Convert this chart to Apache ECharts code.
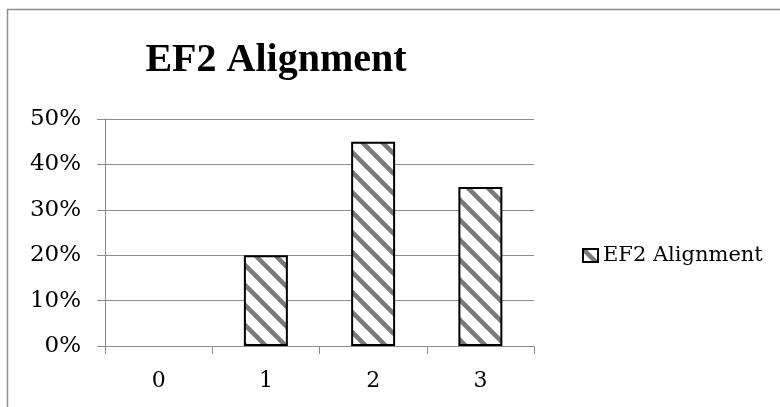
<!DOCTYPE html>
<html>
<head>
<meta charset="utf-8">
<script src="https://cdn.jsdelivr.net/npm/echarts@6/dist/echarts.min.js"></script>
<style>
  html, body { margin: 0; padding: 0; background: #fff; }
  #container { width: 780px; height: 407px; }
</style>
</head>
<body>
<div id="container"></div>
<script>
var categories = ['0', '1', '2', '3'];
var values = [0, 20, 45, 35];
var yTicks = [0, 10, 20, 30, 40, 50];
var seriesName = 'EF2 Alignment';

// diagonal hatch tile
var makeHatch = function () {
    var c = document.createElement('canvas');
    c.width = 20;
    c.height = 20;
    var ctx = c.getContext('2d');
    ctx.fillStyle = '#fff';
    ctx.fillRect(0, 0, 20, 20);
    ctx.strokeStyle = '#7a7a7a';
    ctx.lineWidth = 4.5;
    ctx.filter = 'blur(0.6px)';
    [-20, 0, 20].forEach(function (o) {
        ctx.beginPath();
        ctx.moveTo(o - 5, -5);
        ctx.lineTo(o + 25, 25);
        ctx.stroke();
    });
    return c;
};

var serif = 'DejaVu Serif';

var barData = values.map(function (v) {
    // a zero bar shows no outline in the original
    return v === 0 ? { value: v, itemStyle: { borderWidth: 0 } } : v;
});

var option = {
    animation: false,
    title: {
        text: seriesName,
        left: 271,
        textAlign: 'center',
        top: 36,
        textStyle: {
            fontFamily: 'Liberation Serif',
            fontWeight: 'bold',
            fontSize: 40,
            color: '#000'
        }
    },
    legend: {
        data: [seriesName],
        orient: 'vertical',
        left: 577,
        top: 240,
        icon: 'rect',
        itemWidth: 15,
        itemHeight: 13,
        itemGap: 4,
        textStyle: { fontFamily: serif, fontSize: 21, color: '#000' }
    },
    grid: {
        left: 105,
        right: 246,
        top: 119,
        bottom: 61
    },
    graphic: [{
        type: 'rect',
        shape: { x: 7.5, y: 9.5, width: 800, height: 500 },
        style: { fill: 'none', stroke: '#8c8c8c', lineWidth: 1.5 },
        silent: true
    }],
    xAxis: {
        type: 'category',
        data: categories,
        axisLine: { lineStyle: { color: '#8c8c8c', width: 1 } },
        axisTick: { show: true, length: 8, lineStyle: { color: '#8c8c8c' } },
        axisLabel: { fontFamily: serif, fontSize: 22, color: '#000', margin: 24 }
    },
    yAxis: {
        type: 'value',
        min: yTicks[0],
        max: yTicks[yTicks.length - 1],
        interval: 10,
        axisLine: { show: true, lineStyle: { color: '#8c8c8c', width: 1 } },
        axisTick: { show: true, length: 8, lineStyle: { color: '#8c8c8c' } },
        axisLabel: { fontFamily: serif, fontSize: 23, color: '#000', margin: 24, formatter: '{value}%' },
        splitLine: { lineStyle: { color: '#8c8c8c', width: 1 } }
    },
    series: [{
        name: seriesName,
        type: 'bar',
        data: barData,
        barWidth: '41%',
        itemStyle: {
            color: { image: makeHatch(), repeat: 'repeat' },
            borderColor: '#000',
            borderWidth: 2
        }
    }]
};

var myChart = echarts.init(document.getElementById('container'));
myChart.setOption(option);
</script>
</body>
</html>
